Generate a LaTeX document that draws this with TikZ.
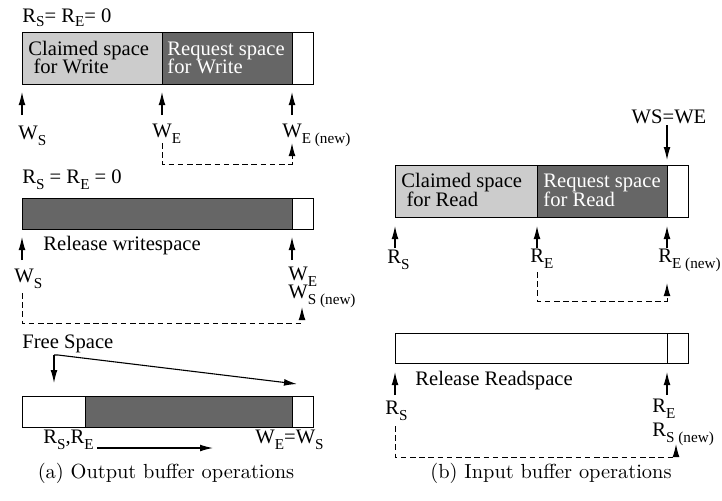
\documentclass[tikz,border=0pt]{standalone}
\usepackage{fontspec}
\newfontfamily\tms{Liberation Serif}
\usetikzlibrary{arrows.meta}
% lowered, smaller subscript in text
\newcommand\lsub[1]{\raisebox{-3pt}{\fontsize{7.6}{8}\selectfont #1}}
\newcommand\msub[1]{\raisebox{-2.3pt}{\fontsize{7.6}{8}\selectfont #1}}
\begin{document}
\begin{tikzpicture}[x=0.5pt,y=-0.5pt,
  lbl/.style={font=\tms\fontsize{10.3}{11}\selectfont, inner sep=0pt, anchor=base west},
  captxt/.style={font=\fontsize{10.2}{12}\selectfont, inner sep=0pt, anchor=base},
  ptr/.style={-{Latex[length=6.5pt,width=3.4pt]}, line width=0.55pt},
  dsh/.style={dash pattern=on 2.8pt off 1.8pt, line width=0.45pt},
  seg/.style={draw=black, line width=0.5pt},
  light/.style={seg, fill=black!20},
  dark/.style={seg, fill=black!60},
  blank/.style={seg, fill=white}]
\useasboundingbox (0,0) rectangle (722,500);

%% ---------------- (a) Output buffer ----------------
% claim and request
\node[lbl] (az) at (22,22) {R\msub{S}= R\msub{E}= 0};
\path[light] (22,32) rectangle (162,84);
\path[dark]  (162,32) rectangle (292,84);
\path[blank] (292,32) rectangle (313,84);
\node[lbl] (acl1) at (28,55) {Claimed space};
\node[lbl] (acl2) at (28,73) {\ for Write};
\node[lbl,text=white] (arq1) at (167,55) {Request space};
\node[lbl,text=white] (arq2) at (167,73) {for Write};

\coordinate (aws) at (22,92);  \coordinate (aws0) at (22,115);
\coordinate (awe) at (162,92); \coordinate (awe0) at (162,115);
\coordinate (awn) at (292,92); \coordinate (awn0) at (292,115);
\draw[ptr] (aws0) -- (aws);
\draw[ptr] (awe0) -- (awe);
\draw[ptr] (awn0) -- (awn);
\node[lbl] (lws) at (18,139) {W\lsub{S}};
\node[lbl] (lwe) at (152,137) {W\lsub{E}};
\node[lbl] (lwn) at (282,137) {W\lsub{E (new)}};
\coordinate (d1a) at (162,143);
\coordinate (d1b) at (292,143);
\draw[dsh] (d1a) -- (162,164) -- (292,164) -- (292,152);
\draw[ptr] (292,152) -- (d1b);

% release writespace
\node[lbl] (az2) at (22,183) {R\lsub{S} = R\lsub{E} = 0};
\path[dark]  (22,198) rectangle (292,229);
\path[blank] (292,198) rectangle (313,229);
\node[lbl] (arel) at (43,250) {Release writespace};
\coordinate (bws) at (22,237);  \coordinate (bws0) at (22,260);
\coordinate (bwe) at (292,237); \coordinate (bwe0) at (292,260);
\draw[ptr] (bws0) -- (bws);
\draw[ptr] (bwe0) -- (bwe);
\node[lbl] (lbws) at (14,282) {W\lsub{S}};
\node[lbl] (lbwe) at (288,280) {W\lsub{E}};
\node[lbl] (lbwn) at (288,298) {W\lsub{S (new)}};
\coordinate (d2a) at (22,293);
\coordinate (d2b) at (302,307);
\draw[dsh] (d2a) -- (22,323) -- (302,323) -- (302,316);
\draw[ptr] (302,316) -- (d2b);

% free space
\node[lbl] (afree) at (22,348) {Free Space};
\coordinate (fs) at (54,355);
\coordinate (fsl) at (54,383);
\coordinate (fsr) at (297,384);
\draw[ptr] (fs) -- (fsl);
\draw[ptr] (fs) -- ++(4,0) -- (fsr);
\path[blank] (22,396) rectangle (85,427);
\path[dark]  (85,396) rectangle (292,427);
\path[blank] (292,396) rectangle (313,427);
\node[lbl] (arsre) at (43,443) {R\lsub{S},R\lsub{E}};
\coordinate (mv0) at (97,448);
\coordinate (mv1) at (213,448);
\draw[ptr] (mv0) -- (mv1);
\node[lbl] (awews) at (255,443) {W\lsub{E}=W\lsub{S}};
\node[captxt] (capa) at (166,478) {(a) Output buffer operations};

%% ---------------- (b) Input buffer ----------------
\node[lbl,anchor=base] (wswe) at (669,123) {WS=WE};
\coordinate (wd0) at (667,125);
\coordinate (wd1) at (667,160);
\draw[ptr] (wd0) -- (wd1);
\path[light] (395,165) rectangle (537,217);
\path[dark]  (537,165) rectangle (667,217);
\path[blank] (667,165) rectangle (688,217);
\node[lbl] (bcl1) at (401,187) {Claimed space};
\node[lbl] (bcl2) at (401,206) {\ for Read};
\node[lbl,text=white] (brq1) at (543,187) {Request space};
\node[lbl,text=white] (brq2) at (543,206) {for Read};

\coordinate (crs) at (395,226); \coordinate (crs0) at (395,248);
\coordinate (cre) at (537,226); \coordinate (cre0) at (537,248);
\coordinate (crn) at (667,226); \coordinate (crn0) at (667,248);
\draw[ptr] (crs0) -- (crs);
\draw[ptr] (cre0) -- (cre);
\draw[ptr] (crn0) -- (crn);
\node[lbl] (lrs) at (387,263) {R\lsub{S}};
\node[lbl] (lre) at (530,262) {R\lsub{E}};
\node[lbl] (lrn) at (658,262) {R\lsub{E (new)}};
\coordinate (d3a) at (537,272);
\coordinate (d3b) at (667,283);
\draw[dsh] (d3a) -- (537,301) -- (667,301) -- (667,292);
\draw[ptr] (667,292) -- (d3b);

% release readspace
\path[blank] (395,333) rectangle (667,363);
\path[blank] (667,333) rectangle (688,363);
\node[lbl] (brel) at (415,385) {Release Readspace};
\coordinate (drs) at (395,372); \coordinate (drs0) at (395,395);
\coordinate (dre) at (667,372); \coordinate (dre0) at (667,395);
\draw[ptr] (drs0) -- (drs);
\draw[ptr] (dre0) -- (dre);
\node[lbl] (lrs2) at (385,414) {R\lsub{S}};
\node[lbl] (lre2) at (652,412) {R\lsub{E}};
\node[lbl] (lrn2) at (652,436) {R\lsub{S (new)}};
\coordinate (d4a) at (395,426);
\coordinate (d4b) at (676,444);
\draw[dsh] (d4a) -- (395,457) -- (676,457) -- (676,453);
\draw[ptr] (676,453) -- (d4b);
\node[captxt] (capb) at (551,478) {(b) Input buffer operations};
\end{tikzpicture}
\end{document}
